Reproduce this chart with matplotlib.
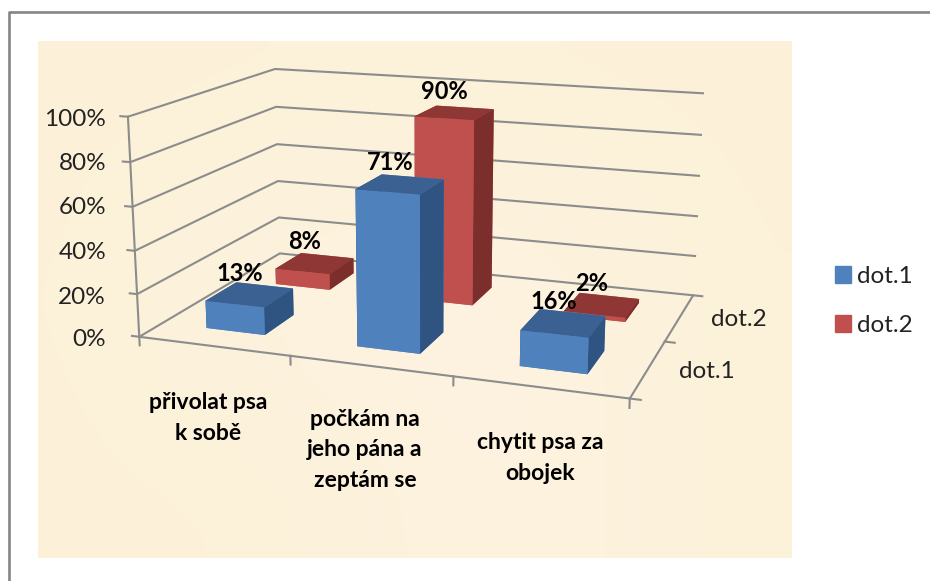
import numpy as np
import matplotlib
matplotlib.use('Agg')
import matplotlib.pyplot as plt
from matplotlib.patches import Patch
from mpl_toolkits.mplot3d import proj3d

plt.rcParams['font.family']=['Lato','DejaVu Sans']

categories=['přivolat psa\nk sobě','počkám na\njeho pána a\nzeptám se','chytit psa za\nobojek']
series_names=['dot.1','dot.2']
dot1=[13,71,16]
dot2=[8,90,2]
z_ticks=[0,20,40,60,80,100]

# colours of faces: bottom, top, front, back, left, right
blue=['#4F81BD','#3A6191','#4F81BD','#4F81BD','#2F5482','#2F5482']
red=['#C0504D','#8E3735','#C0504D','#C0504D','#7B2E2C','#7B2E2C']
grid_col='#8C8C8C'
edge=[0.99,0.945,0.85]
mid=[0.99,0.955,0.885]
parchment=np.array([[edge,edge,edge,edge],
                    [edge,mid,mid,edge],
                    [edge,edge,mid,edge]])

W,H=930,581
fig=plt.figure(figsize=(W/100,H/100),dpi=100,facecolor='white')

def fx(px):
    return px/W
def fy(py):
    return 1-py/H

# background panel
bg=fig.add_axes([fx(38),fy(558),fx(791-38),(558-41)/H])
bg.imshow(parchment,aspect='auto',interpolation='bicubic')
bg.axis('off')

# frame of the slide
fig.add_artist(plt.Line2D([fx(8.5),fx(8.5),1],[0,fy(11.5),fy(11.5)],color='#858585',lw=1.9))

# world (category, series, percent) -> picture pixels, fitted from the corners of the box
world=[(0,0,0),(3,0,0),(3,2,0),(0,2,0),(0,0,100),(0,2,100),(3,2,100)]
pixels=[(139,337),(630,398),(693,296),(280,253),(128,117),(275,69),(703,93)]
rows=[]
for (X,Y,Z),(u,v) in zip(world,pixels):
    rows.append([X,Y,Z,1,0,0,0,0,-u*X,-u*Y,-u*Z,-u])
    rows.append([0,0,0,0,X,Y,Z,1,-v*X,-v*Y,-v*Z,-v])
P=np.linalg.svd(np.array(rows,float))[2][-1].reshape(3,4)
if P[2,3]<0:
    P=-P
M=np.array([P[0],P[1],[-0.3,1,-0.01,0],P[2]])

ax=fig.add_axes([0,0,1,1],projection='3d')
ax.set_proj_type('ortho')
ax.get_proj=lambda: M
ax.apply_aspect=lambda position=None: None
ax.viewLim.intervalx=(0,W)
ax.viewLim.intervaly=(H,0)
ax.set_axis_off()
ax.patch.set_visible(False)
ax.computed_zorder=False

# walls and floor edges
lw=1.5
for t in z_ticks:
    ax.plot([-0.05,0,0,3],[0,0,2,2],[t,t,t,t],color=grid_col,lw=lw,zorder=1)
ax.plot([0,0],[0,0],[0,100],color=grid_col,lw=lw,zorder=1)
ax.plot([0,3,3,3.06],[0,0,2,2],[0,0,0,0],color=grid_col,lw=lw,zorder=1)
for k in range(4):
    ax.plot([k,k],[0,0],[0,-4],color=grid_col,lw=lw,zorder=1)
ax.plot([3,3.06],[1,1],[0,0],color=grid_col,lw=lw,zorder=1)
ax.plot([3,3.06],[0,0],[0,0],color=grid_col,lw=lw,zorder=1)

bar_w=0.395
bar_d=0.42
for vals,cols,z in [(dot2,red,2),(dot1,blue,3)]:
    y0=(1 if cols is red else 0)+0.5-bar_d/2
    for i,val in enumerate(vals):
        ax.bar3d(i+0.5-bar_w/2,y0,0,bar_w,bar_d,val,color=cols,shade=False,zorder=z,linewidth=0)
        # value label sits just above the top of the bar
        px,py,_=proj3d.proj_transform(i+0.5,y0+bar_d/2,val,M)
        fig.text(fx(px-10),fy(py-10),'%d%%'%val,ha='center',va='bottom',fontsize=17,
                 fontweight='bold',color='black',zorder=5)

# tick labels
for t,py in zip(z_ticks,[340,297,252,208,163,119]):
    fig.text(fx(106),fy(py),'%d%%'%t,ha='right',va='center',fontsize=17.5,color='#222222')
for lab,(px,py) in zip(categories,[(208,418),(365,450),(540,458)]):
    fig.text(fx(px),fy(py),lab,ha='center',va='center',fontsize=16.5,fontweight='bold',
             color='black',linespacing=1.55)
fig.text(fx(711),fy(320),series_names[1],ha='left',va='center',fontsize=17.5,color='#222222')
fig.text(fx(679),fy(371),series_names[0],ha='left',va='center',fontsize=17.5,color='#222222')

handles=[Patch(color=blue[0],label=series_names[0]),Patch(color=red[0],label=series_names[1])]
fig.legend(handles=handles,loc='upper left',bbox_to_anchor=(fx(835),fy(266)),frameon=False,
           fontsize=17.5,handlelength=0.65,handleheight=0.65,handletextpad=0.25,labelspacing=1.15,
           borderpad=0,borderaxespad=0,labelcolor='#222222')

fig.savefig('out.png',dpi=100)
